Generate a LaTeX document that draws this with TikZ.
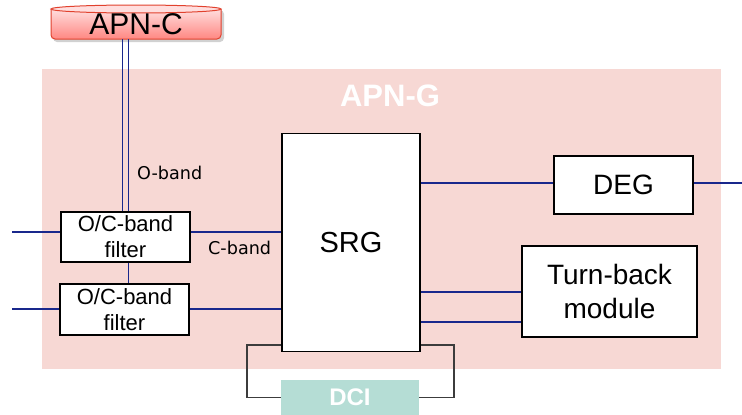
\documentclass[tikz,border=0pt]{standalone}
\usepackage{fontspec}
\setmainfont{Liberation Sans}
\newfontfamily\vd{DejaVu Sans}
\definecolor{bgpink}{RGB}{247,216,212}
\definecolor{dciteal}{RGB}{181,221,213}
\definecolor{navy}{RGB}{25,40,140}
\definecolor{cylred}{RGB}{225,65,45}
\definecolor{cyltop}{RGB}{255,222,222}
\definecolor{cylbot}{RGB}{255,135,130}
\definecolor{loopgray}{RGB}{60,60,60}
\begin{document}
\begin{tikzpicture}[x=1pt,y=-1pt,
  blk/.style={draw=black,line width=1.5pt,fill=white,inner sep=0pt,align=center},
  wire/.style={draw=navy,line width=1.1pt},
  loopw/.style={draw=loopgray,line width=1.6pt},
  lbl/.style={inner sep=0pt,font=\vd\fontsize{17.6}{20}\selectfont}]
\useasboundingbox (0,0) rectangle (742,415);
% background APN-G
\fill[bgpink] (42,69) rectangle (721,369);
\node[inner sep=0pt,text=white,font=\bfseries\fontsize{31}{34}\selectfont] (apng) at (390,96) {APN-G};
% APN-C cylinder
\fill[black,opacity=0.18,rounded corners=4pt] (53,10) -- (53,42) -- (224,42) -- (224,10) -- cycle;
\draw[cylred,line width=1pt,top color=cyltop,bottom color=cylbot,rounded corners=4pt] (51,9) -- (51,39) -- (221,39) -- (221,9);
\draw[cylred,line width=1pt,fill=cyltop] (136,9) ellipse [x radius=85pt,y radius=4pt];
\node[inner sep=0pt,minimum width=170pt,minimum height=30pt,font=\fontsize{30}{34}\selectfont] (apnc) at (136,24) {APN-C};
% boxes
\node[blk,minimum width=138pt,minimum height=218pt,font=\fontsize{29}{32}\selectfont] (srg) at (351,242.5) {SRG};
\node[blk,minimum width=129pt,minimum height=50pt,font=\fontsize{22}{26}\selectfont] (f1) at (125.5,237) {O/C-band\\filter};
\node[blk,minimum width=129pt,minimum height=51pt,font=\fontsize{22}{26}\selectfont] (f2) at (124.5,309.5) {O/C-band\\filter};
\node[blk,minimum width=139pt,minimum height=58pt,font=\fontsize{28}{32}\selectfont] (deg) at (623.5,185) {DEG};
\node[blk,minimum width=175pt,minimum height=91pt,font=\fontsize{28}{34}\selectfont] (tb) at (609.5,291.5) {Turn-back\\module};
\node[fill=dciteal,inner sep=0pt,minimum width=138pt,minimum height=35pt,text=white,font=\bfseries\fontsize{24}{28}\selectfont] (dci) at (350,397.5) {DCI};
% labels
\node[lbl,anchor=west] (oband) at (137,173) {O-band};
\node[lbl,anchor=west] (cband) at (208,248) {C-band};
% named free ends
\coordinate (inA) at (12,232);
\coordinate (inB) at (12,309);
\coordinate (outR) at (742,183);
\coordinate (tbA) at (0,292);
\coordinate (tbB) at (0,322);
% APN-C double line
\draw[wire] ([xshift=-3pt]f1.north) -- ([xshift=-3pt]f1.north |- apnc.south);
\draw[wire] ([xshift=3pt]f1.north) -- ([xshift=3pt]f1.north |- apnc.south);
\draw[wire] ([xshift=3pt]f1.south) -- ([xshift=3pt]f1.south |- f2.north);
% filter wires
\draw[wire] (inA) -- (inA -| f1.west);
\draw[wire] (inA -| f1.east) -- (inA -| srg.west);
\draw[wire] (inB) -- (inB -| f2.west);
\draw[wire] (inB -| f2.east) -- (inB -| srg.west);
% DEG wires
\draw[wire] (outR -| srg.east) -- (outR -| deg.west);
\draw[wire] (outR -| deg.east) -- (outR);
% turn-back wires
\draw[wire] (tbA -| srg.east) -- (tbA -| tb.west);
\draw[wire] (tbB -| srg.east) -- (tbB -| tb.west);
% DCI loop
\draw[loopw] ([yshift=7pt]srg.south west) -- ++(-34,0) |- (dci.west);
\draw[loopw] ([yshift=7pt]srg.south east) -- ++(33,0) |- (dci.east);
\end{tikzpicture}
\end{document}
